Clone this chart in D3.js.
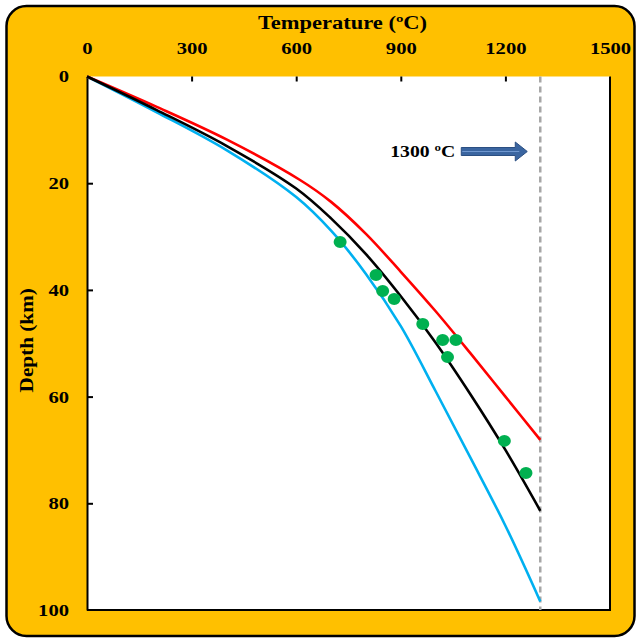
<!DOCTYPE html>
<html>
<head>
<meta charset="utf-8">
<script src="https://cdn.jsdelivr.net/npm/d3@7"></script>
<style>
  html, body { margin: 0; padding: 0; background: #ffffff; }
  svg text { font-family: "Liberation Serif", "Times New Roman", serif; font-weight: bold; fill: #000; }
</style>
</head>
<body>
<svg id="chart" width="637" height="639"></svg>
<script>
// ---- data ----
const xTicks = [0, 300, 600, 900, 1200, 1500];
const yTicks = [0, 20, 40, 60, 80, 100];

const redT     = [0, 200, 400, 611, 700, 800, 900, 1000, 1100, 1200, 1300];
const redDepth = [0, 5.7, 11.8, 19.4, 23.5, 29.5, 36.6, 44.0, 51.9, 60.0, 68.1];

const blackT     = [0, 200, 400, 600, 700, 800, 900, 1000, 1100, 1200, 1300];
const blackDepth = [0, 6.3, 13.0, 21.0, 26.6, 33.3, 41.2, 49.9, 59.6, 70.0, 81.4];

const blueT     = [0, 200, 400, 600, 700, 800, 900, 1000, 1100, 1200, 1300];
const blueDepth = [0, 6.7, 13.8, 22.6, 28.9, 37.0, 46.8, 59.0, 71.5, 84.2, 98.4];

const obsT     = [726, 829, 848, 881, 963, 1020, 1058, 1034, 1197, 1259];
const obsDepth = [31.0, 37.2, 40.2, 41.7, 46.4, 49.4, 49.4, 52.6, 68.3, 74.3];

const limitT = 1300;
const limitLabel = "1300 ºC";
const xTitle = "Temperature (ºC)";
const yTitle = "Depth (km)";

// ---- drawing ----
const svg = d3.select("#chart");
const SX = 1.25; // horizontal text stretch seen in the reference

svg.append("rect")
  .attr("x", 6.5).attr("y", 6).attr("width", 628).attr("height", 630)
  .attr("rx", 20).attr("ry", 20)
  .attr("fill", "#FFC000").attr("stroke", "#000").attr("stroke-width", 2.5);

const x = d3.scaleLinear().domain([0, 1500]).range([87, 610]);
const y = d3.scaleLinear().domain([0, 100]).range([76.5, 610]);

// plot area
svg.append("rect")
  .attr("x", x(0)).attr("y", y(0))
  .attr("width", x(1500) - x(0)).attr("height", y(100) - y(0))
  .attr("fill", "#fff");
// right & bottom frame
svg.append("path")
  .attr("d", `M${x(1500)},${y(0)}V${y(100)}H${x(0)}`)
  .attr("fill", "none").attr("stroke", "#000").attr("stroke-width", 2);

// x axis (top)
const gx = svg.append("g").attr("transform", `translate(0,${y(0)})`)
  .call(d3.axisTop(x).tickValues(xTicks).tickSizeInner(-5).tickSizeOuter(0).tickPadding(22.5).tickFormat(d3.format("d")));
gx.select(".domain").remove();
gx.selectAll(".tick line").attr("stroke", "#000").attr("stroke-width", 2)
  .filter(d => d === 0 || d === 1500).remove();
gx.selectAll(".tick text")
  .attr("font-family", null).attr("font-size", null)
  .style("font-size", "16.5px")
  .attr("transform", `scale(${SX},1)`)
  .attr("x", 0);

// y axis (left)
const gy = svg.append("g").attr("transform", `translate(${x(0)},0)`)
  .call(d3.axisLeft(y).tickValues(yTicks).tickSizeInner(-6).tickSizeOuter(0).tickPadding(0).tickFormat(d3.format("d")));
gy.select(".domain").attr("stroke", "#000").attr("stroke-width", 2);
gy.selectAll(".tick line").attr("stroke", "#000").attr("stroke-width", 2)
  .filter(d => d === 0 || d === 100).remove();
gy.selectAll(".tick text")
  .attr("font-family", null).attr("font-size", null)
  .style("font-size", "16.5px")
  .attr("x", 0).attr("dy", "0.33em")
  .attr("transform", `translate(-18,0) scale(${SX},1)`);
gy.attr("font-family", null).attr("font-size", null);
gx.attr("font-family", null).attr("font-size", null);

// titles
svg.append("text")
  .attr("transform", `translate(${(x(0) + x(1500)) / 2 - 6},29) scale(${SX},1)`)
  .attr("text-anchor", "middle").style("font-size", "18px")
  .text(xTitle);
svg.append("text")
  .attr("transform", `translate(33,${(y(0) + y(100)) / 2 - 3}) rotate(-90) scale(1.18,1)`)
  .attr("text-anchor", "middle").style("font-size", "18px")
  .text(yTitle);

// 1300 ºC dashed limit
svg.append("line")
  .attr("x1", x(limitT)).attr("x2", x(limitT))
  .attr("y1", y(0)).attr("y2", y(100))
  .attr("stroke", "#A6A6A6").attr("stroke-width", 2.5).attr("stroke-dasharray", "6,4");

// curves
const line = d3.line().curve(d3.curveCatmullRom.alpha(0.5));
function drawCurve(T, D, color) {
  svg.append("path")
    .attr("d", line(T.map((t, i) => [x(t), y(D[i])])))
    .attr("fill", "none").attr("stroke", color).attr("stroke-width", 2.6)
    .attr("stroke-linejoin", "round");
}
drawCurve(blueT, blueDepth, "#00B0F0");
drawCurve(redT, redDepth, "#FF0000");
drawCurve(blackT, blackDepth, "#000000");

// observations
svg.append("g").selectAll("ellipse")
  .data(obsT.map((t, i) => [t, obsDepth[i]]))
  .join("ellipse")
  .attr("cx", d => x(d[0])).attr("cy", d => y(d[1]))
  .attr("rx", 6.5).attr("ry", 6)
  .attr("fill", "#00B050");

// label + arrow
svg.append("text")
  .attr("transform", `translate(${x(1300) - 150},156.5) scale(1.23,1)`)
  .style("font-size", "16px")
  .text(limitLabel);
const ax0 = x(1300) - 79, ax1 = x(1300) - 25, ax2 = x(1300) - 13, ay = 151.5;
svg.append("path")
  .attr("d", `M${ax0},${ay - 4}H${ax1}V${ay - 9.5}L${ax2},${ay}L${ax1},${ay + 9.5}V${ay + 4}H${ax0}Z`)
  .attr("fill", "#3A65A0").attr("stroke", "#2B4F82").attr("stroke-width", 1);
svg.append("line")
  .attr("x1", ax0 + 1).attr("x2", ax1 + 4).attr("y1", ay).attr("y2", ay)
  .attr("stroke", "#6F97CF").attr("stroke-width", 1);
</script>
</body>
</html>
